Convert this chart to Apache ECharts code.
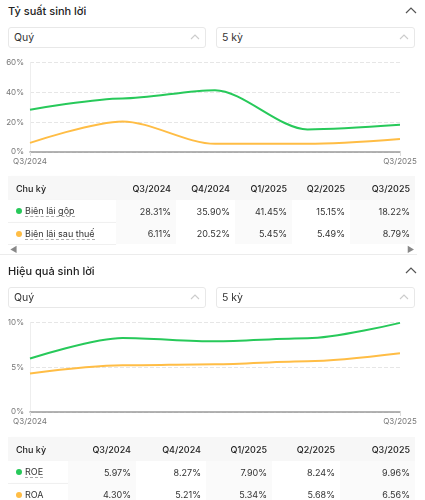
<!DOCTYPE html>
<html><head><meta charset="utf-8">
<script src="https://cdn.jsdelivr.net/npm/echarts@6/dist/echarts.min.js"></script>
<style>
*{box-sizing:border-box;margin:0;padding:0}
html,body{width:425px;height:500px;overflow:hidden;background:#fff;font-family:Inter,"Noto Sans",sans-serif;color:#222}
.abs{position:absolute}
.title{left:8px;font-size:11px;font-weight:500;color:#222;line-height:14px}
.chev{right:8px;width:12px;height:7px;line-height:0}
.chev svg,.dd svg{display:block}
.dd{height:21px;border:1px solid #e8e8e8;border-radius:3px;font-size:10.5px;line-height:19px;padding-left:5px;color:#333}
.dd svg{position:absolute;right:5px;top:6px}
table{border-collapse:collapse;table-layout:fixed;font-size:9px}
th{font-weight:500;background:#f7f7f7;height:24px;text-align:right;padding-right:5px;color:#222}
th.c0{text-align:left;padding-left:8px;}
td{height:22px;text-align:right;padding-right:5px;color:#333;background:#fafafa}
td.w{background:#fff}
td.c0{text-align:left;padding-left:8px;background:#fff;border-bottom:1px solid #f0f0f0}
.c0{box-shadow:2px 0 2px -1px #e6e6e6}
.dot{display:inline-block;width:6px;height:6px;border-radius:50%;margin-right:3px;vertical-align:0px}
.lbl{border-bottom:1px dashed #aaa;line-height:11px}
.sep{left:0;width:417px;height:1px;background:#ececec}
.arr{font-size:8px;color:#888}
</style></head><body>
<div id="root"></div>
<script>
// ---- data ----
const periods = ['Q3/2024','Q4/2024','Q1/2025','Q2/2025','Q3/2025'];
const grossMargin = [28.31, 35.90, 41.45, 15.15, 18.22];
const netMargin = [6.11, 20.52, 5.45, 5.49, 8.79];
const roe = [5.97, 8.27, 7.90, 8.24, 9.96];
const roa = [4.30, 5.21, 5.34, 5.68, 6.56];
const GREEN = '#27c95a', ORANGE = '#ffbd45';

const root = document.getElementById('root');
function el(html){ root.insertAdjacentHTML('beforeend', html); }
const chevBig = '<svg width="12" height="7" viewBox="0 0 12 7"><polyline points="1,6 6,1 11,6" fill="none" stroke="#555" stroke-width="1.2"/></svg>';
const chevSm = '<svg width="10" height="6" viewBox="0 0 10 6"><polyline points="1,5 5,1 9,5" fill="none" stroke="#ccc" stroke-width="1.1"/></svg>';

function panel(top, title, chartId, s1name, s1, s2name, s2, widths, tableTop){
  el(`<div class="abs title" style="top:${top+4}px">${title}</div>`);
  el(`<div class="abs chev" style="top:${top+7}px">${chevBig}</div>`);
  el(`<div class="abs dd" style="top:${top+27}px;left:8px;width:198px">Quý${chevSm}</div>`);
  el(`<div class="abs dd" style="top:${top+27}px;left:216px;width:199px">5 kỳ${chevSm}</div>`);
  el(`<div class="abs" id="${chartId}" style="top:${top+50}px;left:0;width:425px;height:125px"></div>`);
  let cols = widths.map(w=>`<col style="width:${w}px">`).join('');
  let head = `<tr><th class="c0">Chu kỳ</th>` + periods.map(p=>`<th>${p}</th>`).join('') + '</tr>';
  function row(name, color, vals){
    return `<tr><td class="c0"><span class="dot" style="background:${color}"></span><span class="lbl">${name}</span></td>` +
      vals.map((v,i)=>`<td class="${i%2===1?'w':''}">${v.toFixed(2)}%</td>`).join('') + '</tr>';
  }
  el(`<table class="abs" style="top:${tableTop}px;left:8px;width:${widths.reduce((a,b)=>a+b,0)}px"><colgroup>${cols}</colgroup>${head}${row(s1name,GREEN,s1)}${row(s2name,ORANGE,s2)}</table>`);
}

panel(0, 'Tỷ suất sinh lời', 'c1', 'Biên lãi gộp', grossMargin, 'Biên lãi sau thuế', netMargin, [108,60,59,57,58,65], 176);
el(`<div class="abs arr" style="top:244px;left:10px">◀</div>`);
el(`<div class="abs arr" style="top:244px;left:407px">▶</div>`);
el(`<div class="abs sep" style="top:254px"></div>`);
panel(260, 'Hiệu quả sinh lời', 'c2', 'ROE', roe, 'ROA', roa, [60,68,70,66,68,75], 437);

function makeChart(id, yMax, yInt, a, b){
  const c = echarts.init(document.getElementById(id), null, {renderer:'canvas'});
  c.setOption({
    animation:false,
    grid:{left:30, right:25, top:12.5, bottom:23},
    xAxis:{type:'category', data:periods, boundaryGap:false,
      axisLine:{lineStyle:{color:'#9a9a9a', width:1.5}},
      axisTick:{show:true, length:4, lineStyle:{color:'#ddd'}},
      axisLabel:{fontSize:8, color:'#777', fontFamily:'Inter', margin:6,
        interval:(i)=> i===0 || i===periods.length-1},
      splitLine:{show:false}},
    yAxis:{type:'value', min:0, max:yMax, interval:yInt,
      axisLine:{show:true, lineStyle:{color:'#eee'}},
      axisLabel:{fontSize:8, color:'#777', fontFamily:'Inter', margin:6, formatter:'{value}%'},
      splitLine:{lineStyle:{color:'#e6e6e6', type:'dashed'}}},
    series:[
      {type:'line', data:a, smooth:0.3, smoothMonotone:'x', showSymbol:false, lineStyle:{color:GREEN, width:2}, itemStyle:{color:GREEN}},
      {type:'line', data:b, smooth:0.3, smoothMonotone:'x', showSymbol:false, lineStyle:{color:ORANGE, width:2}, itemStyle:{color:ORANGE}}
    ]
  });
}
makeChart('c1', 60, 20, grossMargin, netMargin);
makeChart('c2', 10, 5, roe, roa);
</script>
</body></html>
